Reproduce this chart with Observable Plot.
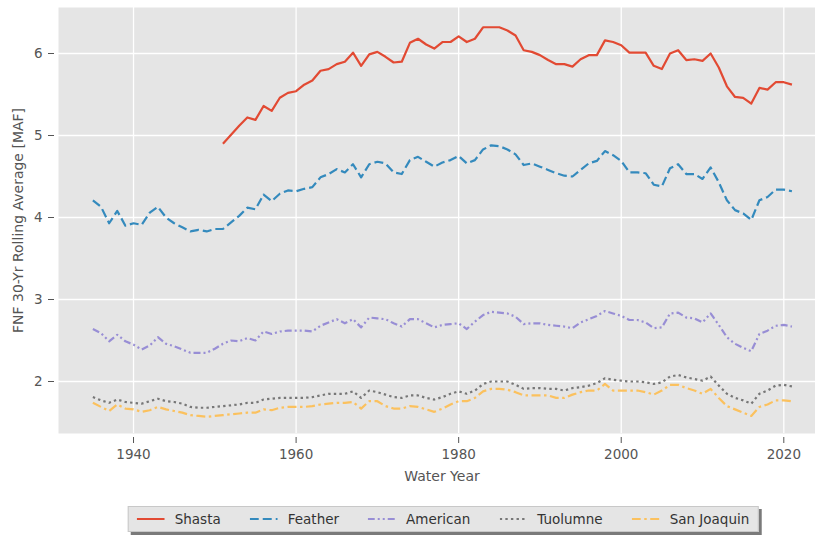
<!DOCTYPE html>
<html>
<head>
<meta charset="utf-8">
<script src="https://cdn.jsdelivr.net/npm/d3@7"></script>
<script src="https://cdn.jsdelivr.net/npm/@observablehq/plot@0.6"></script>
<style>
  body { margin: 0; background: white; font-family: "DejaVu Sans", sans-serif; }
  #wrap { position: relative; width: 815px; height: 535px; overflow: hidden; }
  #legend {
    position: absolute; top: 506px; left: 443px; transform: translateX(-50%);
    display: flex; align-items: center; gap: 29px;
    background: #e5e5e5; border: 1px solid #c8c8c8; padding: 4px 8px;
    box-shadow: 3px 3px 0 #7a7a7a; font-size: 13.5px; color: #333; white-space: nowrap;
  }
  .item { display: flex; align-items: center; gap: 10px; }
</style>
</head>
<body>
<div id="wrap"><div id="chart"></div><div id="legend"></div></div>
<script>
const years = [
  1935,1936,1937,1938,1939,1940,1941,1942,1943,1944,
  1945,1946,1947,1948,1949,1950,1951,1952,1953,1954,
  1955,1956,1957,1958,1959,1960,1961,1962,1963,1964,
  1965,1966,1967,1968,1969,1970,1971,1972,1973,1974,
  1975,1976,1977,1978,1979,1980,1981,1982,1983,1984,
  1985,1986,1987,1988,1989,1990,1991,1992,1993,1994,
  1995,1996,1997,1998,1999,2000,2001,2002,2003,2004,
  2005,2006,2007,2008,2009,2010,2011,2012,2013,2014,
  2015,2016,2017,2018,2019,2020,2021
];
const shastaStart = 1951;
const shasta = [
  4.90,5.01,5.12,5.22,5.19,5.36,5.30,5.46,5.52,
  5.54,5.62,5.67,5.79,5.81,5.87,5.90,6.01,5.85,5.99,
  6.02,5.96,5.89,5.90,6.13,6.18,6.11,6.06,6.14,6.14,
  6.21,6.14,6.18,6.32,6.32,6.32,6.28,6.22,6.04,6.02,
  5.98,5.92,5.87,5.87,5.84,5.93,5.98,5.98,6.16,6.14,
  6.10,6.01,6.01,6.01,5.85,5.81,6.00,6.04,5.92,5.93,
  5.91,6.00,5.83,5.60,5.47,5.46,5.39,5.58,5.56,5.65,
  5.65,5.62
];
const feather = [
  4.21,4.13,3.93,4.08,3.90,3.93,3.91,4.06,4.13,4.00,
  3.93,3.88,3.83,3.85,3.83,3.86,3.86,3.94,4.02,4.12,
  4.10,4.28,4.20,4.29,4.33,4.32,4.35,4.37,4.49,4.53,
  4.59,4.55,4.65,4.49,4.65,4.68,4.66,4.55,4.53,4.70,
  4.74,4.68,4.62,4.67,4.70,4.75,4.66,4.70,4.83,4.88,
  4.87,4.83,4.77,4.64,4.66,4.62,4.58,4.54,4.51,4.50,
  4.58,4.66,4.69,4.81,4.76,4.69,4.55,4.55,4.54,4.40,
  4.38,4.60,4.65,4.53,4.53,4.47,4.61,4.43,4.21,4.09,
  4.05,3.97,4.21,4.25,4.34,4.34,4.32
];
const american = [
  2.64,2.59,2.49,2.57,2.49,2.45,2.39,2.44,2.54,2.46,
  2.43,2.39,2.35,2.35,2.35,2.40,2.46,2.50,2.49,2.53,
  2.50,2.61,2.58,2.61,2.62,2.62,2.62,2.61,2.68,2.72,
  2.76,2.71,2.76,2.66,2.78,2.77,2.76,2.71,2.67,2.76,
  2.76,2.71,2.66,2.69,2.70,2.71,2.64,2.73,2.81,2.85,
  2.84,2.83,2.79,2.70,2.71,2.71,2.69,2.68,2.67,2.65,
  2.72,2.76,2.80,2.86,2.83,2.80,2.75,2.75,2.72,2.65,
  2.66,2.83,2.84,2.78,2.77,2.72,2.83,2.69,2.54,2.46,
  2.41,2.37,2.58,2.62,2.68,2.69,2.67
];
const tuolumne = [
  1.81,1.77,1.74,1.78,1.75,1.74,1.73,1.76,1.79,1.76,
  1.75,1.73,1.69,1.68,1.68,1.69,1.70,1.71,1.72,1.74,
  1.74,1.78,1.79,1.80,1.80,1.80,1.80,1.81,1.83,1.85,
  1.85,1.85,1.88,1.80,1.89,1.87,1.84,1.81,1.80,1.83,
  1.83,1.80,1.78,1.81,1.85,1.88,1.85,1.89,1.97,2.00,
  2.00,2.00,1.96,1.91,1.92,1.92,1.91,1.91,1.89,1.92,
  1.93,1.95,1.98,2.04,2.02,2.01,2.00,2.00,1.99,1.97,
  1.99,2.06,2.08,2.05,2.03,2.01,2.06,1.95,1.85,1.80,
  1.77,1.73,1.85,1.89,1.95,1.96,1.94
];
const sanJoaquin = [
  1.74,1.69,1.64,1.72,1.67,1.66,1.63,1.65,1.69,1.66,
  1.64,1.62,1.59,1.58,1.57,1.58,1.59,1.60,1.61,1.62,
  1.62,1.66,1.65,1.68,1.69,1.69,1.69,1.70,1.72,1.73,
  1.74,1.74,1.75,1.67,1.76,1.76,1.70,1.67,1.67,1.70,
  1.69,1.66,1.63,1.67,1.72,1.76,1.76,1.80,1.88,1.91,
  1.91,1.90,1.87,1.83,1.83,1.83,1.83,1.80,1.80,1.84,
  1.87,1.89,1.89,1.97,1.89,1.89,1.89,1.89,1.87,1.84,
  1.89,1.96,1.96,1.92,1.89,1.85,1.91,1.80,1.70,1.66,
  1.62,1.58,1.69,1.72,1.77,1.77,1.76
];
const seriesNames = ["Shasta","Feather","American","Tuolumne","San Joaquin"];
const seriesColors = ["#E24A33","#348ABD","#988ED5","#777777","#FBC15E"];
const seriesDash = [null,"9,4","7,3,2,3,2,3","2.4,3.2","9,3.5,2.5,3.5"];
const xTicks = [1940,1960,1980,2000,2020];
const yTicks = [2,3,4,5,6];

const seriesRows = [
  shasta.map((v,i)=>({year: shastaStart + i, value: v})),
  feather.map((v,i)=>({year: years[i], value: v})),
  american.map((v,i)=>({year: years[i], value: v})),
  tuolumne.map((v,i)=>({year: years[i], value: v})),
  sanJoaquin.map((v,i)=>({year: years[i], value: v}))
];

const lineMarks = seriesRows.map((rows, k) => Plot.line(rows, {
  x: "year", y: "value", stroke: seriesColors[k], strokeWidth: 2.2,
  strokeDasharray: seriesDash[k] || undefined, strokeLinecap: "butt", strokeLinejoin: "round"
}));

const chart = Plot.plot({
  width: 815, height: 495,
  marginTop: 7, marginBottom: 62, marginLeft: 58, marginRight: 0,
  style: {fontFamily: "DejaVu Sans", fontSize: "13.5px", color: "#555", background: "white"},
  x: {domain: [1930.77, 2023.9], label: null},
  y: {domain: [1.366, 6.561], label: null},
  marks: [
    Plot.frame({fill: "#E5E5E5", stroke: "none"}),
    Plot.gridX(xTicks, {stroke: "white", strokeOpacity: 1, strokeWidth: 1.3}),
    Plot.gridY(yTicks, {stroke: "white", strokeOpacity: 1, strokeWidth: 1.3}),
    ...lineMarks,
    Plot.axisX(xTicks, {tickSize: 6, dy: 4, tickPadding: 6, tickFormat: d => String(d), label: null, color: "#555", fontSize: 13.5}),
    Plot.axisY(yTicks, {tickSize: 6, dx: -4, tickPadding: 6, tickFormat: d => String(d), label: null, color: "#555", fontSize: 13.5}),
    Plot.text(["Water Year"], {frameAnchor: "bottom", dy: 47, dx: 5, fontSize: 14, fill: "#555"}),
    Plot.text(["FNF 30-Yr Rolling Average [MAF]"], {frameAnchor: "left", textAnchor: "middle", dx: -40, rotate: -90, fontSize: 14, fill: "#555"})
  ]
});
document.getElementById("chart").appendChild(chart);

const legend = document.getElementById("legend");
seriesNames.forEach((name, k) => {
  const item = document.createElement("div");
  item.className = "item";
  const dash = seriesDash[k] ? `stroke-dasharray="${seriesDash[k]}"` : "";
  item.innerHTML = `<svg width="28" height="10"><line x1="0" x2="28" y1="5" y2="5" stroke="${seriesColors[k]}" stroke-width="2.2" ${dash}/></svg><span>${name}</span>`;
  legend.appendChild(item);
});
</script>
</body>
</html>
